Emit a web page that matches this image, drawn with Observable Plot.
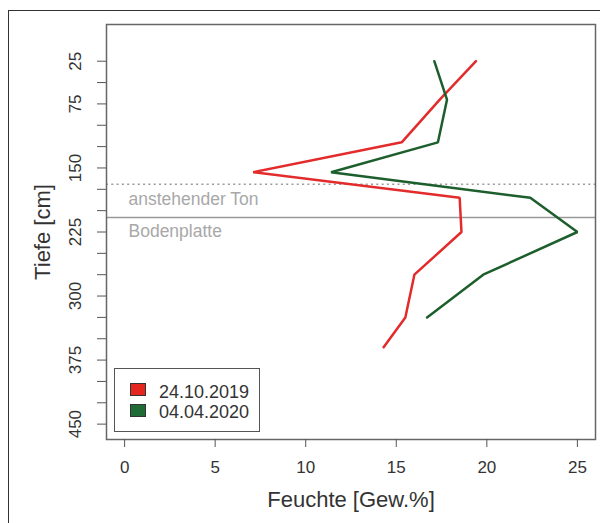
<!DOCTYPE html>
<html>
<head>
<meta charset="utf-8">
<script src="https://cdn.jsdelivr.net/npm/d3@7"></script>
<script src="https://cdn.jsdelivr.net/npm/@observablehq/plot@0.6"></script>
<style>
  html, body { margin: 0; padding: 0; background: #fff; overflow: hidden; }
  #wrap { position: relative; width: 600px; height: 523px; overflow: hidden; font-family: "Liberation Sans", Arial, sans-serif; }
  #outer { position: absolute; left: 8px; top: 10px; width: 592px; height: 513px; border-top: 1.5px solid #333; border-left: 1.5px solid #333; box-sizing: border-box; pointer-events: none; }
  #chart { position: absolute; left: 0; top: 0; }
  #legend { position: absolute; left: 114px; top: 368px; width: 146px; height: 64px; border: 1.5px solid #555; background: #fff; box-sizing: border-box; }
  .sw { position: absolute; left: 15px; width: 14px; height: 11px; border: 1px solid #333; }
  .lt { position: absolute; left: 44px; font-size: 18px; line-height: 18px; color: #333; white-space: nowrap; }
</style>
</head>
<body>
<div id="wrap">
  <div id="chart"></div>
  <div id="outer"></div>
  <div id="legend"></div>
</div>
<script>
// ---- data ----
const seriesNames = ["24.10.2019", "04.04.2020"];
const seriesColors = ["#e32b2b", "#1c5e2c"];
const depths = [25, 70, 120, 155, 185, 225, 275, 325, 360];
const moisture2019 = [19.4, 17.4, 15.3, 7.1, 18.5, 18.6, 16.0, 15.5, 14.3];
const moisture2020 = [17.1, 17.8, 17.3, 11.4, 22.4, 25.0, 19.8, 16.7];
const xTicks = [0, 5, 10, 15, 20, 25];
const yTicks = d3.range(25, 451, 25);
const yLabels = [25, 75, 150, 225, 300, 375, 450];
const tonDepth = [169];
const plateDepth = [208];
const tonLabel = ["anstehender Ton"];
const plateLabel = ["Bodenplatte"];
const xTitle = "Feuchte [Gew.%]";
const yTitle = "Tiefe [cm]";

// ---- table ----
const rows = [];
moisture2019.forEach((v, i) => rows.push({series: seriesNames[0], depth: depths[i], value: v}));
moisture2020.forEach((v, i) => rows.push({series: seriesNames[1], depth: depths[i], value: v}));

const chart = Plot.plot({
  width: 600,
  height: 523,
  marginLeft: 106,
  marginRight: 5,
  marginTop: 24,
  marginBottom: 84,
  style: {fontFamily: "Liberation Sans, Arial, sans-serif", fontSize: "17px", color: "#333", background: "transparent"},
  x: {domain: [-1, 26]},
  y: {domain: [-18, 468], reverse: true},
  color: {domain: seriesNames, range: seriesColors},
  marks: [
    Plot.ruleY(tonDepth, {stroke: "#9a9a9a", strokeWidth: 1.5, strokeDasharray: "2,3.3"}),
    Plot.ruleY(plateDepth, {stroke: "#999", strokeWidth: 1.5}),
    Plot.text(tonLabel, {frameAnchor: "left", y: () => plateDepth[0], dx: 22, dy: -18.5, textAnchor: "start", lineAnchor: "middle", fill: "#a8a8a8", fontSize: 17.5}),
    Plot.text(plateLabel, {frameAnchor: "left", y: () => plateDepth[0], dx: 22, dy: 13.5, textAnchor: "start", lineAnchor: "middle", fill: "#a8a8a8", fontSize: 17.5}),
    Plot.line(rows, {x: "value", y: "depth", z: "series", stroke: "series", strokeWidth: 2.5, strokeLinejoin: "miter"}),
    Plot.frame({stroke: "#666", strokeWidth: 1.5}),
    Plot.axisX({ticks: xTicks, tickSize: 8, tickPadding: 13, fontSize: 17, label: null, stroke: "#555"}),
    Plot.axisY({ticks: yTicks, tickSize: 9, tickFormat: () => "", label: null, stroke: "#555"}),
    Plot.text(yLabels, {y: d => d, text: d => String(d), frameAnchor: "left", dx: -31, rotate: -90, textAnchor: "middle", lineAnchor: "middle", fontSize: 17, fill: "#333"}),
    Plot.text([xTitle], {frameAnchor: "bottom", dy: 60, textAnchor: "middle", lineAnchor: "middle", fontSize: 22, fill: "#333"}),
    Plot.text([yTitle], {frameAnchor: "left", dx: -64, rotate: -90, textAnchor: "middle", lineAnchor: "middle", fontSize: 22, fill: "#333"})
  ]
});
document.getElementById("chart").appendChild(chart);

// ---- legend ----
const legend = document.getElementById("legend");
const fills = ["#e5261f", "#1f6b35"];
seriesNames.forEach((name, i) => {
  const sw = document.createElement("div");
  sw.className = "sw";
  sw.style.top = (14 + i * 21) + "px";
  sw.style.background = fills[i];
  legend.appendChild(sw);
  const t = document.createElement("div");
  t.className = "lt";
  t.style.top = (13.5 + i * 20.5) + "px";
  t.textContent = name;
  legend.appendChild(t);
});
</script>
</body>
</html>
